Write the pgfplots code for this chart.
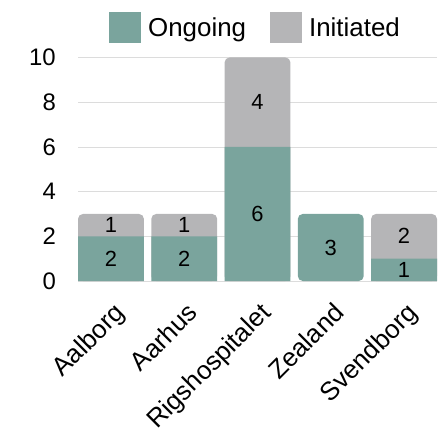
\documentclass[border=0pt]{standalone}
\usepackage{fontspec}
\setmainfont{Liberation Sans}
\usepackage{pgfplots}
\pgfplotsset{compat=1.18}
\definecolor{ongoing}{HTML}{7AA49D}
\definecolor{initiated}{HTML}{B5B5B7}
\definecolor{gridc}{HTML}{DCDCDC}
\begin{document}
\begin{tikzpicture}
\path[use as bounding box] (-78bp,-148bp) rectangle (361bp,281bp);
\begin{axis}[
  name=ax,
  at={(0,0)}, anchor=south west,
  scale only axis,
  width=359bp, height=223.5bp,
  xmin=-0.45, xmax=4.45,
  ymin=0.25, ymax=10.25,
  y filter/.expression={y+0.25},
  ytick={0.25,2.25,4.25,6.25,8.25,10.25},
  yticklabels={0,2,4,6,8,10},
  xtick={0,1,2,3,4},
  xticklabels={Aalborg,Aarhus,Rigshospitalet,Zealand,Svendborg},
  ymajorgrids,
  grid style={gridc, line width=0.8bp},
  axis line style={draw=none},
  major tick length=0pt,
  yticklabel style={font=\fontsize{24}{28}\selectfont, anchor=east, inner sep=0pt, xshift=-22bp},
  xticklabel style={font=\fontsize{26}{30}\selectfont, xshift=1.5bp, yshift=-20bp, rotate=45, anchor=north east, inner sep=0pt},
  legend image code/.code={\path[#1, draw=none] (0bp,-15.5bp) rectangle (32bp,15.5bp);},
  legend style={draw=none, fill=none, at={(0.5,1)}, anchor=south, yshift=12bp, xshift=-2bp,
    legend columns=2, font=\fontsize{26}{30}\selectfont,
    /tikz/every odd column/.append style={column sep=5bp},
    /tikz/every even column/.append style={column sep=22bp}},
]
\addlegendimage{fill=ongoing}
\addlegendentry{Ongoing}
\addlegendimage{fill=initiated}
\addlegendentry{Initiated}

% Initiated stacked on Ongoing: drawn as the bar total (Ongoing + Initiated)
\addplot[ybar, bar width=0.9, bar shift=0pt, fill=initiated, draw=none,
  rounded corners=5bp, forget plot] coordinates {(0,3) (1,3) (2,10) (4,3)};
% Ongoing
\addplot[ybar, bar width=0.9, bar shift=0pt, fill=ongoing, draw=none,
  forget plot] coordinates {(0,2) (1,2) (2,6) (4,1)};
\addplot[ybar, bar width=0.9, bar shift=0pt, fill=ongoing, draw=none,
  rounded corners=5bp, forget plot] coordinates {(3,3)};

% segment labels
\addplot[draw=none, forget plot, nodes near coords, point meta=explicit symbolic,
  every node near coord/.append style={anchor=center, inner sep=0pt,
    font=\fontsize{22}{26}\selectfont, text=black}]
  table[meta=lab] {
x y lab
0 1 2
0 2.5 1
1 1 2
1 2.5 1
2 3 6
2 8 4
3 1.5 3
4 0.5 1
4 2 2
};
\end{axis}
\end{tikzpicture}
\end{document}
